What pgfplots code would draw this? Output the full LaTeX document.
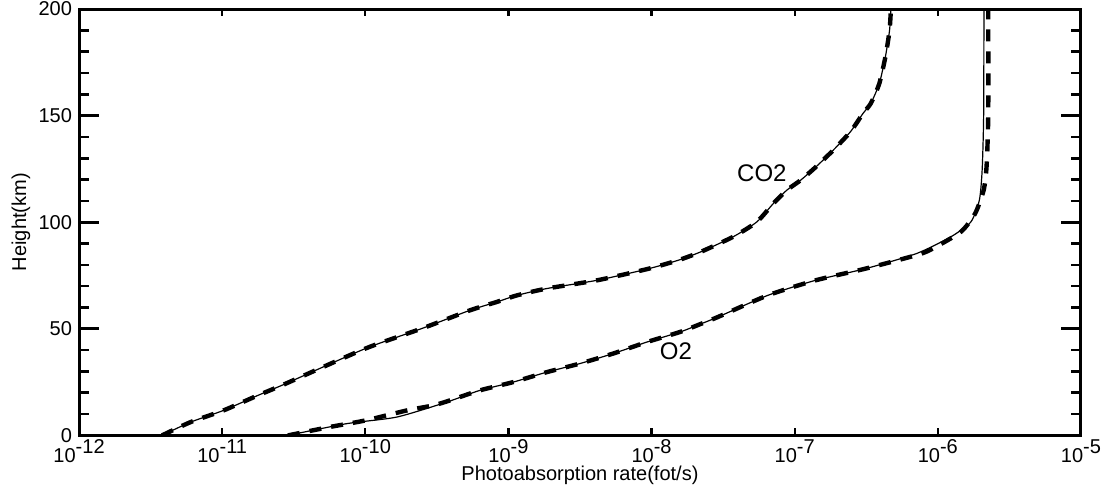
\documentclass[border=0pt]{standalone}
\usepackage{fontspec}
\setmainfont{Liberation Sans}
\usepackage{pgfplots}
\pgfplotsset{compat=1.18}

\newcommand{\tenpow}[1]{10\raisebox{4.6pt}{#1}}

\begin{document}
\begin{tikzpicture}
\useasboundingbox (-39.5pt,-29pt) rectangle (513pt,217.5pt);
\begin{axis}[
    at={(0,0)}, anchor=south west,
    scale only axis,
    width=500.5pt, height=213pt,
    xmode=log, log basis x=10,
    xmin=1e-12, xmax=1e-5,
    ymin=0, ymax=200,
    xtick={1e-12,1e-11,1e-10,1e-9,1e-8,1e-7,1e-6,1e-5},
    xticklabels={\tenpow{-12},\tenpow{-11},\tenpow{-10},\tenpow{-9},\tenpow{-8},\tenpow{-7},\tenpow{-6},\tenpow{-5}},
    xminorticks=false,
    ytick={0,50,100,150,200},
    minor y tick num=4,
    tick align=inside,
    xtick style={black, line width=1.1pt, /pgfplots/major tick length=3.5pt},
    ytick style={black, line width=1.3pt, /pgfplots/major tick length=10pt},
    minor tick length=5pt,
    axis line style={black, line width=1.5pt},
    /pgf/number format/assume math mode=true,
    tick label style={font=\fontsize{10}{12}\selectfont},
    xticklabel style={yshift=1.5pt},
    xlabel={Photoabsorption rate(fot/s)},
    ylabel={Height(km)},
    label style={font=\fontsize{10}{12}\selectfont},
    xlabel style={at={([yshift=-22.5pt]axis description cs:0.5,0)}, anchor=base},
    ylabel style={at={([xshift=-26.5pt]axis description cs:0,0.5)}, anchor=base},
]
% CO2, dashed
\addplot[black, line width=2.2pt, dash pattern=on 6pt off 5pt, smooth, tension=0.4] coordinates {
(3.8e-12,0) (6.0e-12,6.2) (1.02e-11,11.7) (1.74e-11,18.5) (2.7e-11,23.9)
(5.4e-11,32.9) (1.07e-10,41.5) (2.57e-10,50.5) (5.4e-10,58.7) (8.3e-10,62.6)
(1.15e-9,65.7) (1.86e-9,68.9) (4.2e-9,72.8) (9.3e-9,78) (1.51e-8,82)
(2.19e-8,86) (3.7e-8,93.1) (5.43e-8,100.1) (7.1e-8,108.8) (8.8e-8,115)
(1.10e-7,119.7) (1.41e-7,126) (1.86e-7,133.8) (2.45e-7,142.4) (3.0e-7,151)
(3.4e-7,155.7) (3.9e-7,165) (4.3e-7,177.5) (4.6e-7,190) (4.7e-7,200)
};
% CO2, solid
\addplot[black, line width=0.6pt, smooth, tension=0.4] coordinates {
(3.8e-12,0) (6.0e-12,6.2) (1.02e-11,11.7) (1.74e-11,18.5) (2.7e-11,23.9)
(5.4e-11,32.9) (1.07e-10,41.5) (2.57e-10,50.5) (5.4e-10,58.7) (8.3e-10,62.6)
(1.15e-9,65.7) (1.86e-9,68.9) (4.2e-9,72.8) (9.3e-9,78) (1.51e-8,82)
(2.19e-8,86) (3.7e-8,93.1) (5.43e-8,100.1) (7.1e-8,108.8) (8.8e-8,115)
(1.10e-7,119.7) (1.41e-7,126) (1.86e-7,133.8) (2.45e-7,142.4) (3.0e-7,151)
(3.4e-7,155.7) (3.9e-7,165) (4.3e-7,177.5) (4.6e-7,190) (4.7e-7,200)
};
% O2, dashed
\addplot[black, line width=2.2pt, dash pattern=on 6pt off 5pt, smooth, tension=0.4] coordinates {
(2.88e-11,0) (5.6e-11,3.9) (1.0e-10,7) (1.95e-10,11.7) (3.0e-10,14.1)
(3.9e-10,16.4) (6.3e-10,21.1) (1.08e-9,25) (1.86e-9,29.7) (3.16e-9,33.7)
(5.4e-9,38.4) (9.3e-9,43.8) (1.58e-8,48.5) (2.19e-8,52.2) (2.9e-8,55.5)
(6.5e-8,65.7) (1.41e-7,72.8) (3.16e-7,78.3) (7.3e-7,84.8) (9.3e-7,87.8)
(1.45e-6,95.5) (1.82e-6,104) (2.09e-6,115) (2.19e-6,126) (2.25e-6,150)
(2.25e-6,200)
};
% O2, solid
\addplot[black, line width=0.6pt, smooth, tension=0.4] coordinates {
(2.88e-11,0) (7.4e-11,5.5) (1.66e-10,8.6) (3.7e-10,15.6) (6.3e-10,21.1)
(1.08e-9,25) (1.86e-9,29.7) (3.16e-9,33.7) (5.4e-9,38.4) (9.3e-9,43.8)
(1.58e-8,48.5) (2.19e-8,52.2) (2.9e-8,55.5) (6.5e-8,65.7) (1.41e-7,72.8)
(3.16e-7,78.3) (7.1e-7,85.3) (1.23e-6,93.1) (1.70e-6,100.1) (1.95e-6,110.3)
(2.04e-6,124.4) (2.09e-6,150) (2.10e-6,200)
};
\node[font=\fontsize{12}{14}\selectfont] at (axis cs:5.9e-8,123) {CO2};
\node[font=\fontsize{12}{14}\selectfont] at (axis cs:1.48e-8,39.4) {O2};
\end{axis}
\end{tikzpicture}
\end{document}
